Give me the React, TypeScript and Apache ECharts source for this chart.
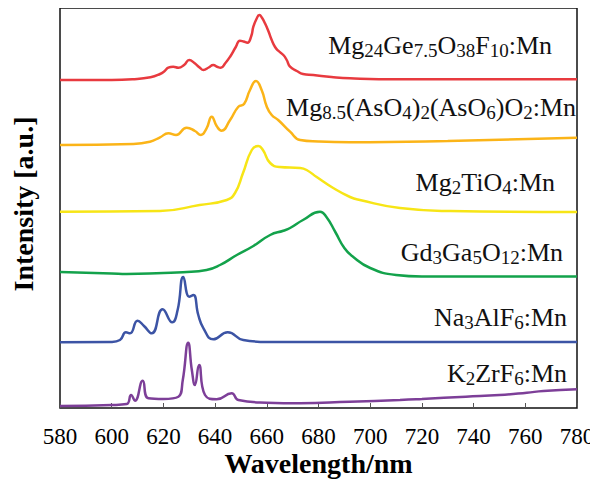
import React, { useEffect, useRef } from "react";
import * as echarts from "echarts";

// Wavelength axis (nm)
const xMin = 580;
const xMax = 780;
const xStep = 20;
const xTitle = "Wavelength/nm";
const yTitle = "Intensity [a.u.]";

// Spectra: [wavelength nm, intensity a.u. (stacked, with offsets)]
const mgGeSpectrum = [
  [580, 328], [600, 328], [608, 328.7], [615, 330.7], [618.7, 334], [620.5, 337],
  [621.9, 340.3], [623.8, 341.3], [625.8, 340.3], [628, 343], [630, 348], [632, 345],
  [634, 340.5], [635.5, 338], [637.5, 340.5], [639.3, 343], [641, 341], [642.2, 340.3],
  [644, 345], [645.8, 351.3], [648, 361], [649.6, 367.3], [651, 366.5], [652.5, 365.3],
  [654, 372], [654.8, 381.3], [656, 389], [657.1, 393], [658.2, 390], [659.3, 384.7],
  [660.6, 377], [661.9, 368], [663.2, 361], [664.4, 357.3], [666.4, 353], [667.7, 348],
  [669, 341.3], [671.6, 337], [674, 334], [678, 333], [685, 331], [692.2, 329.7],
  [711, 328.7], [780, 328.7],
];

const mgAsSpectrum = [
  [580, 263], [608.4, 264], [614.8, 266.3], [618.7, 270.7], [621.9, 274.7], [624.9, 273],
  [629, 280.3], [632.2, 277], [634.5, 273], [636.7, 279.7], [638.7, 291.3], [640.6, 282],
  [642.5, 277.3], [645.8, 288], [649, 301.3], [651.2, 304], [653.5, 318], [655.8, 327],
  [658, 318], [660, 301.3], [661.9, 293], [664.4, 288], [669, 276.3], [672.9, 268],
  [680, 266.5], [692, 265.8], [730, 267], [780, 270.3],
];

const mgTiSpectrum = [
  [580, 196.3], [618.7, 197], [634, 203], [644.5, 208], [647.7, 215], [650.8, 235],
  [654.2, 258], [656.7, 262], [658.5, 258], [661.3, 245], [665, 241], [672.9, 240],
  [675.4, 238], [679.3, 231], [685.7, 220], [692.2, 211], [696, 208], [711.5, 200],
  [731, 197], [780, 196],
];

const gdGaSpectrum = [
  [580, 136], [600, 134.5], [605.8, 134], [620, 135], [627.6, 135.7], [636.7, 138],
  [641.9, 143], [648.4, 153], [654.8, 162], [661.3, 173], [666.4, 177.3], [669, 180],
  [674, 188], [680.6, 196.3], [683, 191.3], [686.5, 176], [690, 160], [693, 152],
  [700, 140], [710, 133], [720, 131.5], [780, 131.5],
];

const naAlSpectrum = [
  [580, 65.7], [600, 66], [603.2, 68], [605.5, 75.7], [607.1, 74.7], [610, 87.3],
  [612.5, 82], [615.5, 74.7], [619.7, 98.7], [623.4, 85.7], [625.5, 98], [627.7, 131],
  [630, 111.3], [631.6, 113], [633.5, 93], [635.5, 79.7], [639.3, 68.7], [644.9, 75.7],
  [650.9, 68], [660, 66], [780, 66],
];

const kZrSpectrum = [
  [580, 2], [600, 3], [605.8, 4], [607.5, 13], [609, 7.3], [612, 27.3], [614.2, 9.7],
  [620, 9], [625.8, 11.3], [627.5, 28], [629.6, 65.3], [631, 38], [632.2, 23], [633.8, 43],
  [636.1, 13], [640.6, 8.7], [646.4, 14.7], [649, 8], [660, 5.3], [672.9, 4.7], [692, 6.3],
  [711.5, 8], [720, 9], [737, 11.3], [750, 13], [760.6, 15.3], [767, 17], [780, 18.7],
];

const sampleNames = [
  "Mg{s|24}Ge{s|7.5}O{s|38}F{s|10}:Mn",
  "Mg{s|8.5}(AsO{s|4}){s|2}(AsO{s|6})O{s|2}:Mn",
  "Mg{s|2}TiO{s|4}:Mn",
  "Gd{s|3}Ga{s|5}O{s|12}:Mn",
  "Na{s|3}AlF{s|6}:Mn",
  "K{s|2}ZrF{s|6}:Mn",
];

const spectra = [mgGeSpectrum, mgAsSpectrum, mgTiSpectrum, gdGaSpectrum, naAlSpectrum, kZrSpectrum];
const colors = ["#e83a3f", "#fbb418", "#f7e516", "#13a24b", "#3c54a5", "#7d3f98"];

// label anchor (right edge x, vertical centre y) in px
const labelPos = [
  [552, 45], [576, 107], [555, 182], [563, 252], [567, 317], [567, 373],
];

const serif = "Liberation Serif";

export default function App() {
  const ref = useRef<HTMLDivElement>(null);
  useEffect(() => {
    if (!ref.current) return;
    const chart = echarts.init(ref.current, undefined, { renderer: "svg" });
    chart.setOption({
      animation: false,
      backgroundColor: "#fff",
      grid: {
        left: 60, top: 8, width: 517, height: 400,
        show: true, borderColor: "#111", borderWidth: 1.5, backgroundColor: "transparent",
      },
      xAxis: {
        type: "value", min: xMin, max: xMax, interval: xStep,
        axisLine: { show: false },
        axisTick: { show: true, inside: true, length: 5, lineStyle: { color: "#555", width: 1 } },
        axisLabel: { fontFamily: serif, fontSize: 23, color: "#000", margin: 17 },
        splitLine: { show: false },
      },
      yAxis: {
        type: "value", min: 0, max: 400,
        axisLine: { show: false }, axisTick: { show: false }, axisLabel: { show: false },
        splitLine: { show: false },
      },
      series: spectra.map((d, i) => ({
        type: "line", data: d, showSymbol: false, smooth: 0.5,
        lineStyle: { color: colors[i], width: 2.5 }, itemStyle: { color: colors[i] },
        silent: true,
      })),
      graphic: [
        ...sampleNames.map((t, i) => ({
          type: "text", x: labelPos[i][0], y: labelPos[i][1], silent: true,
          style: {
            text: t, fontFamily: serif, fontSize: 26, fill: "#111", lineHeight: 30,
            align: "right", verticalAlign: "middle",
            rich: { s: { fontFamily: serif, fontSize: 19, lineHeight: 22, verticalAlign: "bottom", fill: "#111" } },
          },
        })),
        {
          type: "text", x: 318.5, y: 463, silent: true,
          style: { text: xTitle, fontFamily: serif, fontSize: 28, fontWeight: "bold", fill: "#000", align: "center", verticalAlign: "middle" },
        },
        {
          type: "text", x: 23, y: 204, rotation: Math.PI / 2, silent: true,
          style: { text: yTitle, fontFamily: serif, fontSize: 28, fontWeight: "bold", fill: "#000", align: "center", verticalAlign: "middle" },
        },
      ],
    });
    return () => chart.dispose();
  }, []);
  return <div ref={ref} style={{ width: 598, height: 487, margin: -8 }} />;
}
